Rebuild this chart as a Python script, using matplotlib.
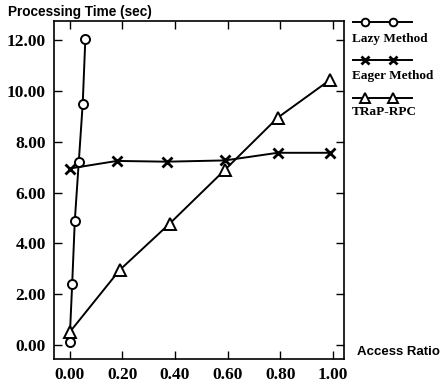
import matplotlib
matplotlib.use("Agg")
import matplotlib.pyplot as plt
from matplotlib.lines import Line2D

# Data
lazy_x = [0.0, 0.01, 0.02, 0.035, 0.05, 0.06]
lazy_y = [0.1, 2.4, 4.9, 7.2, 9.5, 12.05]
eager_x = [0.0, 0.18, 0.37, 0.59, 0.79, 0.99]
eager_y = [6.95, 7.25, 7.22, 7.27, 7.57, 7.57]
trap_x = [0.0, 0.19, 0.38, 0.59, 0.79, 0.99]
trap_y = [0.5, 2.95, 4.78, 6.9, 8.95, 10.45]
x_ticks = [0.0, 0.2, 0.4, 0.6, 0.8, 1.0]
y_ticks = [0, 2, 4, 6, 8, 10, 12]
series_names = ["Lazy Method", "Eager Method", "TRaP-RPC"]

W, H = 444, 387
fig = plt.figure(figsize=(W / 100, H / 100), dpi=100)
ax = fig.add_axes([54 / W, 1 - 359 / H, (344 - 54) / W, (359 - 21) / H])

lw = 1.4
styles = [
    dict(marker="o", ms=6.5, mfc="white", mec="black", mew=1.4),
    dict(marker="x", ms=6.5, mec="black", mew=2.0),
    dict(marker="^", ms=8, mfc="white", mec="black", mew=1.4),
]
leg_styles = [
    dict(marker="o", ms=5.5, mfc="white", mec="black", mew=1.4),
    dict(marker="x", ms=5.5, mec="black", mew=2.0),
    dict(marker="^", ms=6.5, mfc="white", mec="black", mew=1.4),
]
ax.plot(lazy_x, lazy_y, color="black", lw=lw, **styles[0], zorder=3)
ax.plot(eager_x, eager_y, color="black", lw=lw, **styles[1], zorder=3)
ax.plot(trap_x, trap_y, color="black", lw=lw, **styles[2], zorder=3)

ax.set_xlim(-0.059, 1.042)
ax.set_ylim(-0.55, 12.76)
ax.set_xticks(x_ticks)
ax.set_yticks(y_ticks)
ax.set_xticklabels([f"{v:.2f}" for v in x_ticks])
ax.set_yticklabels([f"{v:.2f}" for v in y_ticks])
ax.tick_params(direction="in", length=6, width=1.0, top=True, right=True,
               pad=6, labelsize=12.5)
for lab in ax.get_xticklabels() + ax.get_yticklabels():
    lab.set_fontfamily("Liberation Serif")
    lab.set_fontweight("bold")
for s in ax.spines.values():
    s.set_linewidth(1.2)

fig.text(8 / W, 1 - 12 / H, "Processing Time (sec)", family="Liberation Sans",
         weight="bold", fontsize=9.8, va="center", ha="left")
fig.text(357 / W, 1 - 352 / H, "Access Ratio", family="Liberation Sans",
         weight="bold", fontsize=9.5, va="center", ha="left")

# Legend (manual layout: sample line above label)
line_y = [22, 60, 98]
text_y = [39, 76, 112]
for i, name in enumerate(series_names):
    ly = 1 - line_y[i] / H
    fig.add_artist(Line2D([353 / W, 412 / W], [ly, ly], transform=fig.transFigure,
                          color="black", lw=lw))
    fig.add_artist(Line2D([365 / W, 393 / W], [ly, ly], transform=fig.transFigure,
                          color="black", lw=0, **leg_styles[i]))
    fig.text(352 / W, 1 - text_y[i] / H, name, family="Liberation Serif",
             weight="bold", fontsize=9.5, va="center", ha="left")

fig.savefig("out.png", dpi=100)
